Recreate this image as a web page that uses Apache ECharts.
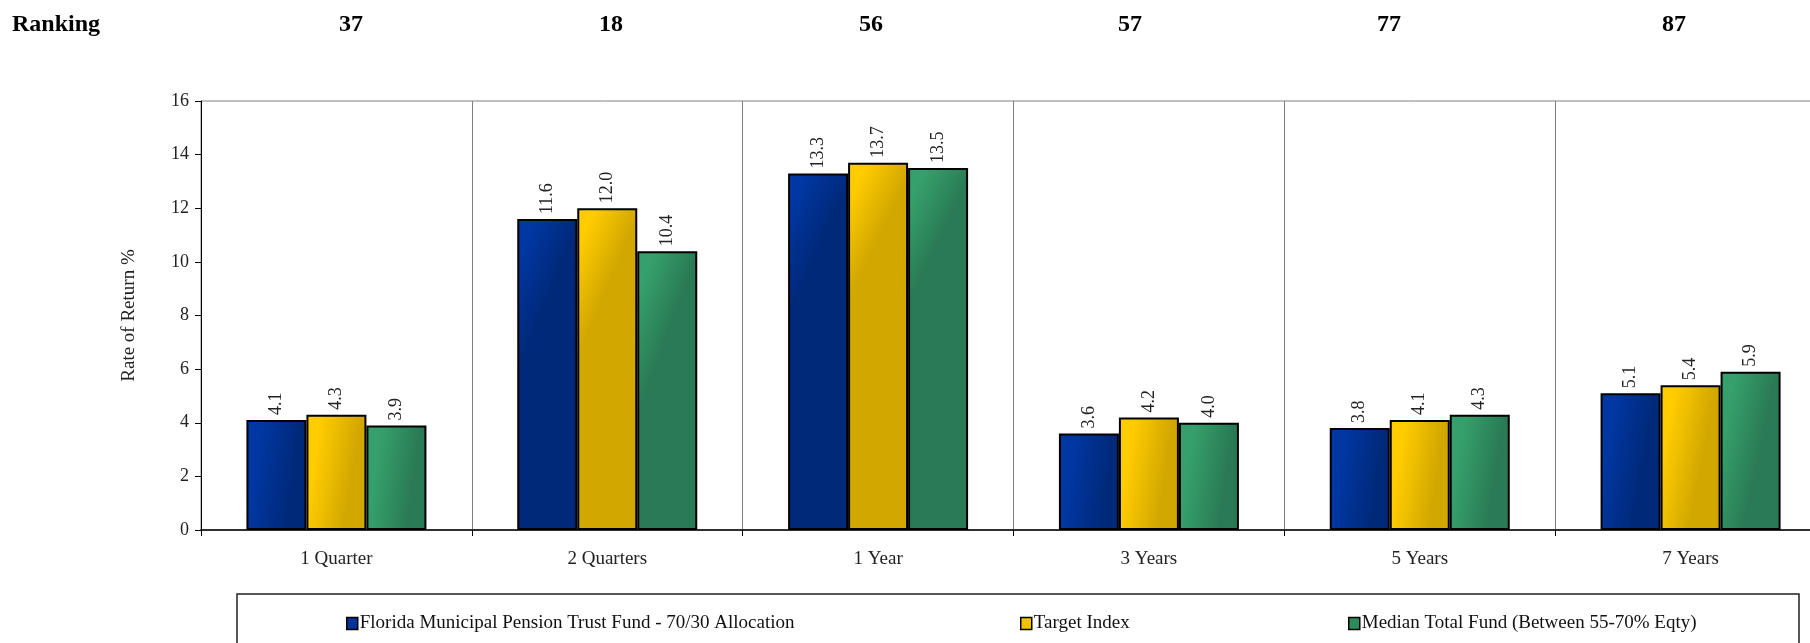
<!DOCTYPE html>
<html>
<head>
<meta charset="utf-8">
<title>Rate of Return</title>
<script src="https://cdn.jsdelivr.net/npm/echarts@6/dist/echarts.min.js"></script>
<style>
  html, body { margin: 0; padding: 0; background: #ffffff; }
  #chart { width: 1810px; height: 643px; }
</style>
</head>
<body>
<div id="chart"></div>
<script>
// Periods and returns (%)
const categories = ['1 Quarter', '2 Quarters', '1 Year', '3 Years', '5 Years', '7 Years'];
const fundReturns = [4.1, 11.6, 13.3, 3.6, 3.8, 5.1];
const targetReturns = [4.3, 12.0, 13.7, 4.2, 4.1, 5.4];
const medianReturns = [3.9, 10.4, 13.5, 4.0, 4.3, 5.9];
const rankings = [37, 18, 56, 57, 77, 87];
const seriesNames = [
  'Florida Municipal Pension Trust Fund - 70/30 Allocation',
  'Target Index',
  'Median Total Fund (Between 55-70% Eqty)'
];

// Layout of the ranking row and legend entries (pixels)
const rankingX = [351, 611, 871, 1130, 1389, 1674];
const legendX = [346, 1020, 1348];

const FONT = '"Liberation Serif", "DejaVu Serif", serif';

// Bars are lit from the upper left and fall off towards the right edge
function shade(bright, dark) {
  return {
    type: 'linear', x: 0, y: 0, x2: 1, y2: 0.08,
    colorStops: [
      { offset: 0, color: bright },
      { offset: 0.25, color: bright },
      { offset: 0.9, color: dark },
      { offset: 1, color: dark }
    ]
  };
}

const palette = [
  { bright: '#0037A2', dark: '#00297A', solid: '#003399' },
  { bright: '#FFCC00', dark: '#D2A700', solid: '#F2C200' },
  { bright: '#35A06B', dark: '#2A7A55', solid: '#2E8B5C' }
];

const seriesData = [fundReturns, targetReturns, medianReturns];

const series = seriesData.map((values, i) => ({
  name: seriesNames[i],
  type: 'bar',
  data: values,
  barWidth: 60,
  barGap: '0%',
  itemStyle: {
    color: shade(palette[i].bright, palette[i].dark),
    borderColor: '#000000',
    borderWidth: 2
  },
  label: {
    show: true,
    position: 'top',
    rotate: 90,
    align: 'left',
    verticalAlign: 'middle',
    distance: 5,
    fontFamily: FONT,
    fontSize: 18,
    color: '#222222',
    formatter: p => p.value.toFixed(1)
  }
}));

const legends = seriesNames.map((name, i) => ({
  left: legendX[i],
  top: 614,
  padding: 0,
  itemWidth: 11,
  itemHeight: 12,
  itemGap: 0,
  icon: 'rect',
  textStyle: { fontFamily: FONT, fontSize: 19, color: '#111111', padding: [0, 0, 0, -3] },
  data: [{ name: name, itemStyle: { color: palette[i].solid, borderColor: '#000000', borderWidth: 1.5 } }]
}));

const graphics = [
  {
    type: 'rect',
    shape: { x: 237, y: 594, width: 1562, height: 80 },
    style: { fill: '#ffffff', stroke: '#222222', lineWidth: 1.5 },
    z: -1
  },
  {
    type: 'text',
    left: 12,
    top: 13,
    style: { text: 'Ranking', font: 'bold 24px ' + FONT, fill: '#000000' }
  }
].concat(rankings.map((r, i) => ({
  type: 'text',
  x: rankingX[i],
  y: 25,
  style: {
    text: String(r),
    font: 'bold 24px ' + FONT,
    fill: '#000000',
    align: 'center',
    verticalAlign: 'middle'
  }
})));

const chart = echarts.init(document.getElementById('chart'));
chart.setOption({
  animation: false,
  backgroundColor: '#ffffff',
  grid: {
    left: 201,
    top: 101,
    bottom: 113,
    width: 1625,
    containLabel: false,
    outerBoundsMode: 'none',
    show: true,
    borderColor: '#808080',
    borderWidth: 1
  },
  legend: legends,
  graphic: graphics,
  xAxis: {
    type: 'category',
    data: categories,
    axisLine: { lineStyle: { color: '#000000', width: 1.5 } },
    axisTick: { show: true, length: 6, lineStyle: { color: '#000000' } },
    splitLine: { show: true, lineStyle: { color: '#808080', width: 1 } },
    axisLabel: { fontFamily: FONT, fontSize: 19, color: '#222222', margin: 20 }
  },
  yAxis: {
    type: 'value',
    min: 0,
    max: 16,
    interval: 2,
    name: 'Rate of Return %',
    nameLocation: 'middle',
    nameGap: 62,
    nameTextStyle: { fontFamily: FONT, fontSize: 19, color: '#222222' },
    axisLine: { show: true, lineStyle: { color: '#000000', width: 1 } },
    axisTick: { show: true, length: 6, lineStyle: { color: '#000000' } },
    splitLine: { show: false },
    axisLabel: { fontFamily: FONT, fontSize: 18, color: '#222222', margin: 12 }
  },
  series: series
});
</script>
</body>
</html>
